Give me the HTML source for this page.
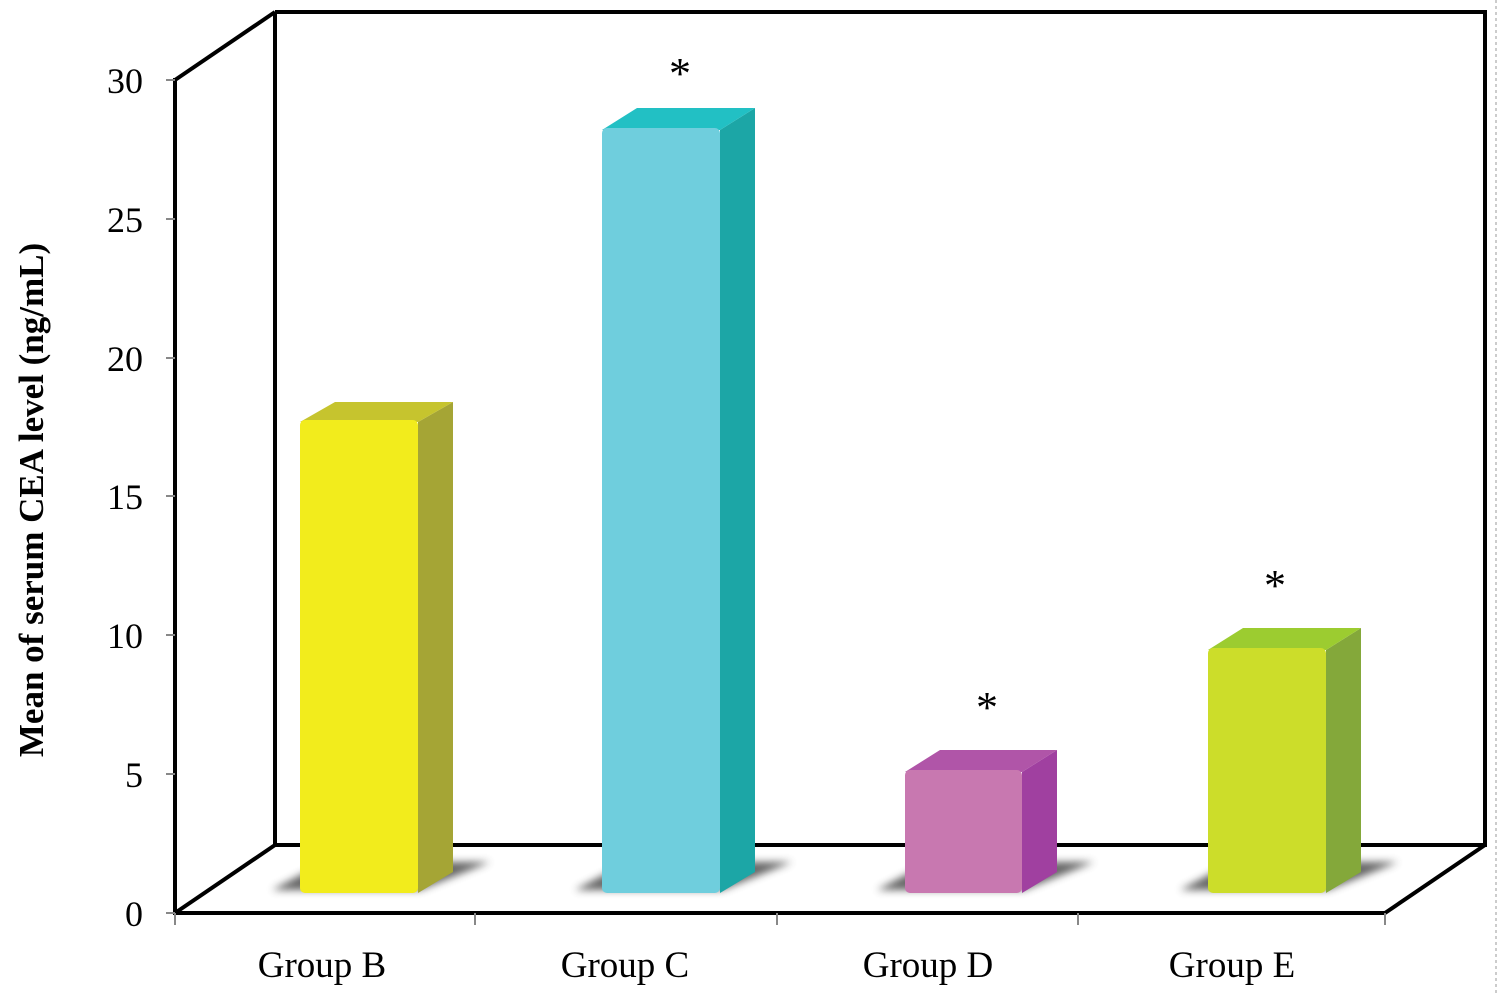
<!DOCTYPE html>
<html><head><style>body{margin:0;background:#fff}svg{display:block}</style></head><body>
<svg width="1500" height="994" viewBox="0 0 1500 994" xmlns="http://www.w3.org/2000/svg" font-family="Liberation Serif, serif">
<defs>
<filter id="blur" x="-20%" y="-50%" width="140%" height="200%"><feGaussianBlur stdDeviation="4"/></filter>
</defs>
<line x1="1496" y1="0" x2="1496" y2="994" stroke="#bbb" stroke-width="1.5" stroke-dasharray="3,3"/>
<polyline points="275,12 1485,12 1485,845 275,845 275,12" fill="none" stroke="#000" stroke-width="4"/>
<line x1="175" y1="80" x2="275" y2="12" stroke="#000" stroke-width="4"/>
<line x1="175" y1="913" x2="275" y2="845" stroke="#000" stroke-width="4"/>
<line x1="1385" y1="913" x2="1485" y2="845" stroke="#000" stroke-width="4"/>
<line x1="175" y1="78" x2="175" y2="915" stroke="#000" stroke-width="4"/>
<line x1="173" y1="913" x2="1385" y2="913" stroke="#000" stroke-width="4"/>
<g stroke="#888" stroke-width="2">
<line x1="166" y1="80" x2="175" y2="80"/><line x1="166" y1="219" x2="175" y2="219"/><line x1="166" y1="358" x2="175" y2="358"/><line x1="166" y1="496" x2="175" y2="496"/><line x1="166" y1="635" x2="175" y2="635"/><line x1="166" y1="774" x2="175" y2="774"/><line x1="166" y1="913" x2="175" y2="913"/>
<line x1="175" y1="913" x2="175" y2="925"/><line x1="475" y1="913" x2="475" y2="925"/><line x1="777" y1="913" x2="777" y2="925"/><line x1="1078" y1="913" x2="1078" y2="925"/><line x1="1385" y1="913" x2="1385" y2="925"/>
</g>
<g font-size="36" text-anchor="end" fill="#000">
<text x="143" y="93">30</text><text x="143" y="232">25</text><text x="143" y="371">20</text><text x="143" y="509">15</text><text x="143" y="648">10</text><text x="143" y="787">5</text><text x="143" y="926">0</text>
</g>
<text transform="translate(43,500) rotate(-90)" font-size="35" font-weight="bold" text-anchor="middle">Mean of serum CEA level (ng/mL)</text>
<g font-size="37" text-anchor="middle">
<text x="322" y="977">Group B</text><text x="625" y="977">Group C</text><text x="928" y="977">Group D</text><text x="1232" y="977">Group E</text>
</g>
<g font-size="44" text-anchor="middle"><text x="680" y="88">*</text><text x="987" y="722">*</text><text x="1275" y="600">*</text></g>
<g fill="#555" filter="url(#blur)" opacity="0.9">
<polygon points="272,890 420,890 490,862 325,862"/>
<polygon points="575,890 722,890 792,862 628,862"/>
<polygon points="877,890 1024,890 1094,862 930,862"/>
<polygon points="1180,890 1328,890 1398,862 1233,862"/>
</g>
<g>
<polygon points="418,422 453,402 453,872 418,893" fill="#a5a535"/>
<polygon points="300,422 335,402 453,402 418,422" fill="#c6c42e"/>
<rect x="300" y="420" width="118" height="473" rx="5" fill="#f2ec1c"/>
<polygon points="720,130 755,108 755,872 720,893" fill="#1ca6a6"/>
<polygon points="602,130 637,108 755,108 720,130" fill="#22c0c4"/>
<rect x="602" y="128" width="118" height="765" rx="5" fill="#6fcedd"/>
<polygon points="1022,772 1057,750 1057,872 1022,893" fill="#a040a0"/>
<polygon points="905,772 940,750 1057,750 1022,772" fill="#b055a8"/>
<rect x="905" y="770" width="117" height="123" rx="5" fill="#c878b0"/>
<polygon points="1326,650 1361,628 1361,872 1326,893" fill="#84a83a"/>
<polygon points="1208,650 1243,628 1361,628 1326,650" fill="#9ccc30"/>
<rect x="1208" y="648" width="118" height="245" rx="5" fill="#ccdd2a"/>
</g>
</svg>
</body></html>
